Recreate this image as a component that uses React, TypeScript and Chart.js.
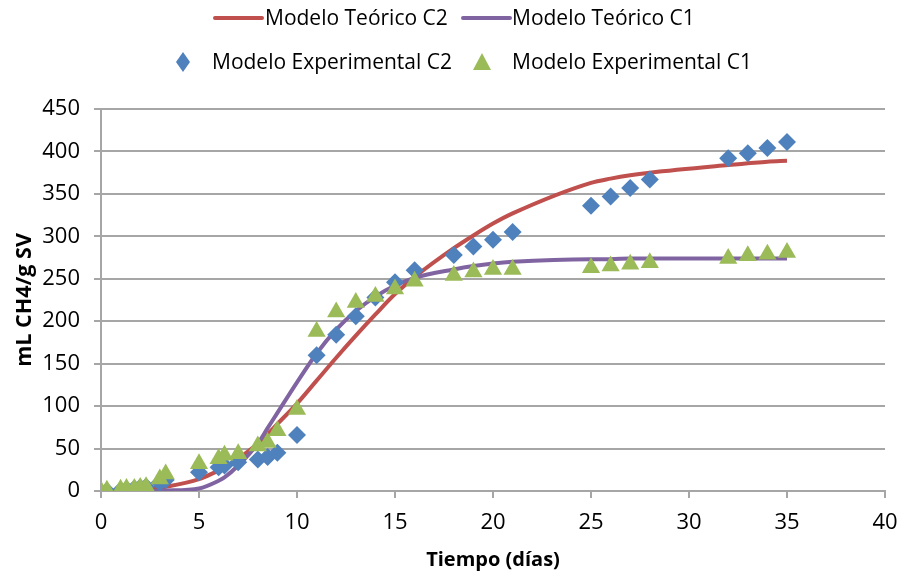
import React, { useEffect, useRef } from "react";
import { Chart, registerables } from "chart.js";

Chart.register(...registerables);

const days = [0, 0.3, 1, 1.3, 1.7, 2, 2.3, 3, 3.3, 5, 6, 6.3, 7, 8, 8.5, 9, 10, 11, 12, 13, 14, 15, 16, 18, 19, 20, 21, 25, 26, 27, 28, 32, 33, 34, 35];
const teoricoC2 = [0, 0, 0.5, 1, 1.5, 2, 2.5, 4, 5, 14, 24, 27, 38, 56, 67, 79, 103, 130, 157, 183, 208, 232, 252, 286, 301, 315, 327, 363, 368, 372, 375, 384, 386, 388, 389];
const teoricoC1 = [0, 0, 0, 0, 0, 0, 0, 0.3, 0.5, 3, 12, 16, 30, 56, 74, 92, 128, 162, 190, 212, 229, 242, 251, 261, 265, 268, 270, 273, 273, 274, 274, 274, 274, 274, 274];
const experimentalC2 = [-2, 0, 1, 2, 3, 4, 5, 10, 13, 22, 28, 30, 34, 37, 40, 45, 66, 160, 184, 206, 228, 246, 260, 278, 288, 296, 305, 336, 347, 357, 367, 392, 398, 404, 411];
const experimentalC1 = [0, 1, 2, 3, 3, 4, 5, 14, 20, 32, 38, 42, 44, 53, 57, 71, 96, 188, 211, 222, 229, 238, 247, 254, 258, 261, 261, 263, 265, 267, 269, 274, 277, 279, 281];

const xTicks = [0, 5, 10, 15, 20, 25, 30, 35, 40];
const yTicks = [0, 50, 100, 150, 200, 250, 300, 350, 400, 450];

const labels = ["Modelo Teórico C2", "Modelo Teórico C1", "Modelo Experimental C2", "Modelo Experimental C1"];
const colors = ["#C0504D", "#8064A2", "#4F81BD", "#9BBB59"];

const FONT = "'Open Sans', 'Liberation Sans', sans-serif";

const pts = (ys: number[]) => days.map((d, i) => ({ x: d, y: ys[i] }));

const legendPlugin = {
  id: "customLegend",
  afterDraw(chart: any) {
    const ctx = chart.ctx as CanvasRenderingContext2D;
    const ds = chart.data.datasets;
    const items = [
      { i: 0, kind: "line", mx: 215, y: 18, tx: 265 },
      { i: 1, kind: "line", mx: 463, y: 18, tx: 512 },
      { i: 2, kind: "diamond", mx: 183, y: 62, tx: 212 },
      { i: 3, kind: "triangle", mx: 482, y: 62, tx: 512 },
    ];
    ctx.save();
    ctx.font = `21px ${FONT}`;
    ctx.textBaseline = "middle";
    ctx.textAlign = "left";
    for (const it of items) {
      const c = ds[it.i].borderColor || ds[it.i].backgroundColor;
      if (it.kind === "line") {
        ctx.strokeStyle = c;
        ctx.lineWidth = 4;
        ctx.lineCap = "round";
        ctx.beginPath();
        ctx.moveTo(it.mx, it.y);
        ctx.lineTo(it.mx + 47, it.y);
        ctx.stroke();
      } else if (it.kind === "diamond") {
        ctx.fillStyle = ds[it.i].backgroundColor;
        ctx.beginPath();
        ctx.moveTo(it.mx, it.y - 10);
        ctx.lineTo(it.mx + 7, it.y);
        ctx.lineTo(it.mx, it.y + 10);
        ctx.lineTo(it.mx - 7, it.y);
        ctx.closePath();
        ctx.fill();
      } else {
        ctx.fillStyle = ds[it.i].backgroundColor;
        ctx.beginPath();
        ctx.moveTo(it.mx, it.y - 9);
        ctx.lineTo(it.mx + 9, it.y + 8);
        ctx.lineTo(it.mx - 9, it.y + 8);
        ctx.closePath();
        ctx.fill();
      }
      ctx.fillStyle = "#000";
      ctx.fillText(ds[it.i].label, it.tx, it.y + 1);
    }
    ctx.restore();
  },
};

export default function App() {
  const ref = useRef<HTMLCanvasElement | null>(null);
  useEffect(() => {
    if (!ref.current) return;
    const grid = "#a6a6a6";
    const chart = new Chart(ref.current, {
      type: "scatter",
      data: {
        datasets: [
          {
            type: "line",
            label: labels[0],
            data: pts(teoricoC2),
            borderColor: colors[0],
            backgroundColor: colors[0],
            borderWidth: 4,
            pointRadius: 0,
            cubicInterpolationMode: "monotone",
            order: 3,
          },
          {
            type: "line",
            label: labels[1],
            data: pts(teoricoC1),
            borderColor: colors[1],
            backgroundColor: colors[1],
            borderWidth: 4,
            pointRadius: 0,
            cubicInterpolationMode: "monotone",
            order: 2,
          },
          {
            type: "scatter",
            label: labels[2],
            data: pts(experimentalC2),
            backgroundColor: colors[2],
            borderWidth: 0,
            pointStyle: "rectRot",
            pointRadius: 9,
            order: 1,
          },
          {
            type: "scatter",
            label: labels[3],
            data: pts(experimentalC1),
            backgroundColor: colors[3],
            borderWidth: 0,
            pointStyle: "triangle",
            pointRadius: 10.5,
            order: 0,
          },
        ] as any,
      },
      options: {
        animation: false,
        responsive: true,
        maintainAspectRatio: false,
        layout: { padding: { top: 109, right: 22, left: 0, bottom: 0 } },
        plugins: { legend: { display: false }, tooltip: { enabled: false } },
        scales: {
          x: {
            type: "linear",
            min: 0,
            max: 40,
            afterFit: (s: any) => { s.height = 85; s.paddingLeft = 0; s.paddingRight = 0; },
            afterBuildTicks: (s: any) => { s.ticks = xTicks.map((v) => ({ value: v })); },
            ticks: { color: "#000", font: { family: FONT, size: 22 }, padding: 12, maxRotation: 0 },
            grid: { drawOnChartArea: false, drawTicks: true, tickLength: 7, color: grid, lineWidth: 2 },
            border: { color: grid, width: 2 },
            title: {
              display: true,
              text: "Tiempo (días)",
              color: "#000",
              font: { family: FONT, size: 20, weight: "bold", lineHeight: 1 },
              padding: { top: 0, bottom: 6 },
            },
          },
          y: {
            type: "linear",
            min: 0,
            max: 450,
            afterFit: (s: any) => { s.width = 101; s.paddingTop = 0; s.paddingBottom = 0; },
            afterBuildTicks: (s: any) => { s.ticks = yTicks.map((v) => ({ value: v })); },
            ticks: { color: "#000", font: { family: FONT, size: 22 }, padding: 14 },
            grid: { drawTicks: true, tickLength: 7, color: grid, lineWidth: 2 },
            border: { color: grid, width: 2 },
            title: {
              display: true,
              text: "mL CH4/g SV",
              color: "#000",
              font: { family: FONT, size: 21.5, weight: "bold", lineHeight: 1.2 },
              padding: { top: 12, bottom: 0 },
            },
          },
        },
      },
      plugins: [legendPlugin],
    });
    return () => chart.destroy();
  }, []);
  return (
    <div style={{ position: "absolute", left: 0, top: 0, width: 907, height: 576 }}>
      <canvas ref={ref} />
    </div>
  );
}
